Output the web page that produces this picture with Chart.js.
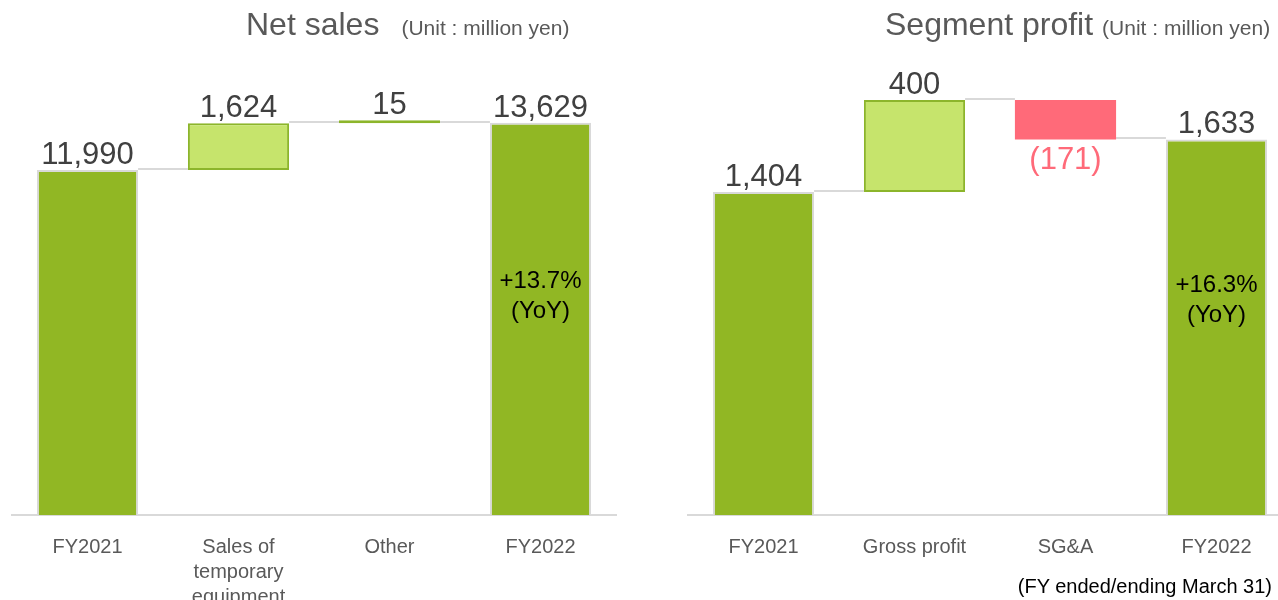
<!DOCTYPE html>
<html>
<head>
<meta charset="utf-8">
<script src="https://cdn.jsdelivr.net/npm/chart.js@4/dist/chart.umd.min.js"></script>
<style>
    html, body { margin: 0; padding: 0; background: #fff; }
    body { width: 1278px; height: 600px; position: relative; overflow: hidden; font-family: "Liberation Sans", Arial, sans-serif; }
    .box { position: absolute; top: 0; width: 640px; height: 600px; }
    .title { position: absolute; white-space: nowrap; color: #595959; }
    .title .main { font-size: 32px; }
    .title .unit { font-size: 21px; }
    .note { position: absolute; right: 6px; top: 575px; font-size: 20px; color: #000; white-space: nowrap; }
</style>
</head>
<body>
<div class="box" style="left:0"><canvas id="salesChart" width="640" height="600"></canvas></div>
<div class="box" style="left:680px"><canvas id="profitChart" width="640" height="600"></canvas></div>
<div class="title" style="left:246px; top:6px;"><span class="main">Net sales</span><span class="unit" style="margin-left:22px">(Unit : million yen)</span></div>
<div class="title" style="left:885px; top:6px;"><span class="main">Segment profit</span><span class="unit" style="margin-left:9px">(Unit : million yen)</span></div>
<div class="note">(FY ended/ending March 31)</div>

<script>
// 売上データ
const salesCategories = ['FY2021', ['Sales of', 'temporary', 'equipment'], 'Other', 'FY2022'];
const salesValues = [11990, 1624, 15, 13629];
const salesKinds = ['total', 'delta', 'delta', 'total'];
const salesYoY = ['+13.7%', '(YoY)'];
const salesAxisMax = 15500;

// セグメント利益データ
const profitCategories = ['FY2021', 'Gross profit', 'SG&A', 'FY2022'];
const profitValues = [1404, 400, -171, 1633];
const profitKinds = ['total', 'delta', 'delta', 'total'];
const profitYoY = ['+16.3%', '(YoY)'];
const profitAxisMax = 1900;

const DARK_GREEN = '#91b724';
const LIGHT_GREEN = '#c6e46c';
const LIGHT_GREEN_BORDER = '#8cb52b';
const PINK = '#ff6a79';
const GRAY = '#d9d9d9';

// 積み上げ範囲を作る
function toRanges(values, kinds) {
    let run = 0;
    const ranges = [];
    const levels = [];
    values.forEach((v, i) => {
        if (kinds[i] === 'total') {
            run = v;
            ranges.push([0, v]);
        } else {
            const start = run;
            run += v;
            ranges.push([Math.min(start, run), Math.max(start, run)]);
        }
        levels.push(run);
    });
    return { ranges, levels };
}

// 接続線＋数値ラベル
const waterfallPlugin = {
    id: 'waterfall',
    beforeDatasetsDraw(chart) {
        const { ctx } = chart;
        const meta = chart.getDatasetMeta(0);
        const yScale = chart.scales.y;
        const levels = chart.options.plugins.waterfall.levels;
        ctx.save();
        ctx.strokeStyle = GRAY;
        ctx.lineWidth = 2;
        for (let i = 0; i < meta.data.length - 1; i++) {
            const a = meta.data[i], b = meta.data[i + 1];
            const y = Math.round(yScale.getPixelForValue(levels[i])) - 1;
            ctx.beginPath();
            ctx.moveTo(a.x + a.width / 2, y);
            ctx.lineTo(b.x - b.width / 2, y);
            ctx.stroke();
        }
        ctx.restore();
    },
    afterDatasetsDraw(chart) {
        const { ctx, chartArea } = chart;
        const opts = chart.options.plugins.waterfall;
        const meta = chart.getDatasetMeta(0);
        ctx.save();
        ctx.textAlign = 'center';
        ctx.font = '31px "Liberation Sans", Arial, sans-serif';
        meta.data.forEach((el, i) => {
            const v = opts.values[i];
            const top = Math.min(el.y, el.base);
            const bottom = Math.max(el.y, el.base);
            if (v < 0) {
                ctx.fillStyle = PINK;
                ctx.textBaseline = 'top';
                ctx.fillText('(' + Math.abs(v).toLocaleString('en-US') + ')', el.x, bottom + 6);
            } else {
                ctx.fillStyle = '#404040';
                ctx.textBaseline = 'alphabetic';
                ctx.fillText(v.toLocaleString('en-US'), el.x, top - 6);
            }
        });
        // 前年比
        const last = meta.data[meta.data.length - 1];
        const cy = (chartArea.top + chartArea.bottom) / 2 + 4;
        ctx.fillStyle = '#000';
        ctx.textBaseline = 'middle';
        ctx.font = '24px "Liberation Sans", Arial, sans-serif';
        ctx.fillText(opts.yoy[0], last.x, cy - 15);
        ctx.fillText(opts.yoy[1], last.x, cy + 15);
        ctx.restore();
    }
};

function renderWaterfall(canvasId, categories, values, kinds, yoy, axisMax, padding) {
    const { ranges, levels } = toRanges(values, kinds);
    const bg = values.map((v, i) => kinds[i] === 'total' ? DARK_GREEN : (v < 0 ? PINK : LIGHT_GREEN));
    const border = values.map((v, i) => kinds[i] === 'total' ? GRAY : (v < 0 ? PINK : LIGHT_GREEN_BORDER));
    const borderW = values.map((v, i) => kinds[i] === 'total' ? 2 : (v < 0 ? 0 : 2));

    new Chart(document.getElementById(canvasId).getContext('2d'), {
        type: 'bar',
        data: {
            labels: categories,
            datasets: [{
                data: ranges,
                backgroundColor: bg,
                borderColor: border,
                borderWidth: borderW,
                borderSkipped: (c) => kinds[c.dataIndex] === 'total' ? 'start' : false,
                barPercentage: 0.67,
                categoryPercentage: 1,
                minBarLength: 3,
            }]
        },
        options: {
            responsive: false,
            animation: false,
            layout: { padding: padding },
            plugins: {
                legend: { display: false },
                tooltip: { enabled: false },
                waterfall: { values: values, levels: levels, yoy: yoy }
            },
            scales: {
                y: { display: false, min: 0, max: axisMax },
                x: {
                    grid: { display: false, drawTicks: false },
                    border: { display: true, color: GRAY, width: 2 },
                    ticks: {
                        color: '#595959',
                        padding: 20,
                        maxRotation: 0,
                        autoSkip: false,
                        font: { family: '"Liberation Sans", Arial, sans-serif', size: 20, lineHeight: 1.25 }
                    },
                    afterFit: (axis) => { axis.height = 85; }
                }
            }
        },
        plugins: [waterfallPlugin]
    });
}

renderWaterfall('salesChart', salesCategories, salesValues, salesKinds, salesYoY, salesAxisMax,
    { left: 12, right: 24, top: 69, bottom: 0 });
renderWaterfall('profitChart', profitCategories, profitValues, profitKinds, profitYoY, profitAxisMax,
    { left: 8, right: 28, top: 78, bottom: 0 });
</script>
</body>
</html>
